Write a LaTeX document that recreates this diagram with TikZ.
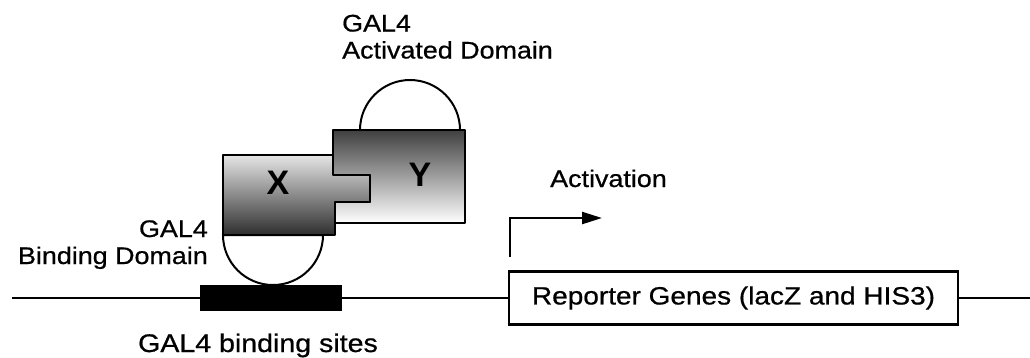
\documentclass[tikz,border=0pt]{standalone}
\usepackage{fontspec}
\setmainfont{Liberation Sans}[FakeStretch=1.12,FakeBold=0.7]
\newfontfamily\xyfont{Liberation Sans}
\usetikzlibrary{arrows.meta}
\begin{document}
\begin{tikzpicture}[x=1pt,y=-1pt,
  lbl/.style={font=\fontsize{24}{27}\selectfont, inner sep=0pt},
  dna/.style={line width=2.2pt},
  outl/.style={line width=2.8pt, line join=round, draw=black},
  dom/.style={line width=2pt, fill=white},
  big/.style={font=\xyfont\fontsize{34}{34}\selectfont\bfseries, inner sep=0pt}]
\useasboundingbox (0,0) rectangle (1030,357);
% DNA
\coordinate (L) at (12,298);
\coordinate (R) at (1030,298);
\node[fill=black, minimum width=142pt, minimum height=26pt, inner sep=0pt] (bar) at (271,298) {};
\node[draw, line width=2.2pt, minimum width=449pt, minimum height=53pt, inner sep=0pt,
      font=\fontsize{25}{28}\selectfont] (rep) at (733.5,298) {Reporter Genes (lacZ and HIS3)};
\draw[dna] (L) -- (bar.west);
\draw[dna] (bar.east) -- (rep.west);
\draw[dna] (rep.east) -- (R);
% domains
\draw[dom] (223,235) arc[start angle=180, end angle=0, radius=50] -- cycle;
\draw[dom] (360,130) arc[start angle=180, end angle=360, radius=50] -- cycle;
% Y box
\draw[outl, top color=black!75, bottom color=white]
  (333,130) -- (465,130) -- (465,223) -- (335,223) -- (335,202) -- (370,202) -- (370,175) -- (333,175) -- cycle;
% X box
\draw[outl, top color=black!10, bottom color=black!82]
  (223,155) -- (333,155) -- (333,175) -- (370,175) -- (370,202) -- (335,202) -- (335,235) -- (223,235) -- cycle;
\node[big] (xl) at (278,183) {X};
\node[big] (yl) at (420,175) {Y};
% labels
\node[lbl, anchor=base west, align=left] (ad) at (342,58.5) {GAL4\\Activated Domain};
\node[lbl, anchor=base east, align=right] (bd) at (208,264) {GAL4\\Binding Domain};
\node[lbl, anchor=base, font=\fontsize{25.5}{28}\selectfont] (bs) at (258,352) {GAL4 binding sites};
\node[lbl, anchor=base west] (act) at (550,187) {Activation};
% activation arrow
\coordinate (a0) at (510,257);
\coordinate (a1) at (602,218);
\draw[line width=2.4pt, -{Triangle[length=20pt,width=12pt]}] (a0) |- (a1);
\end{tikzpicture}
\end{document}
